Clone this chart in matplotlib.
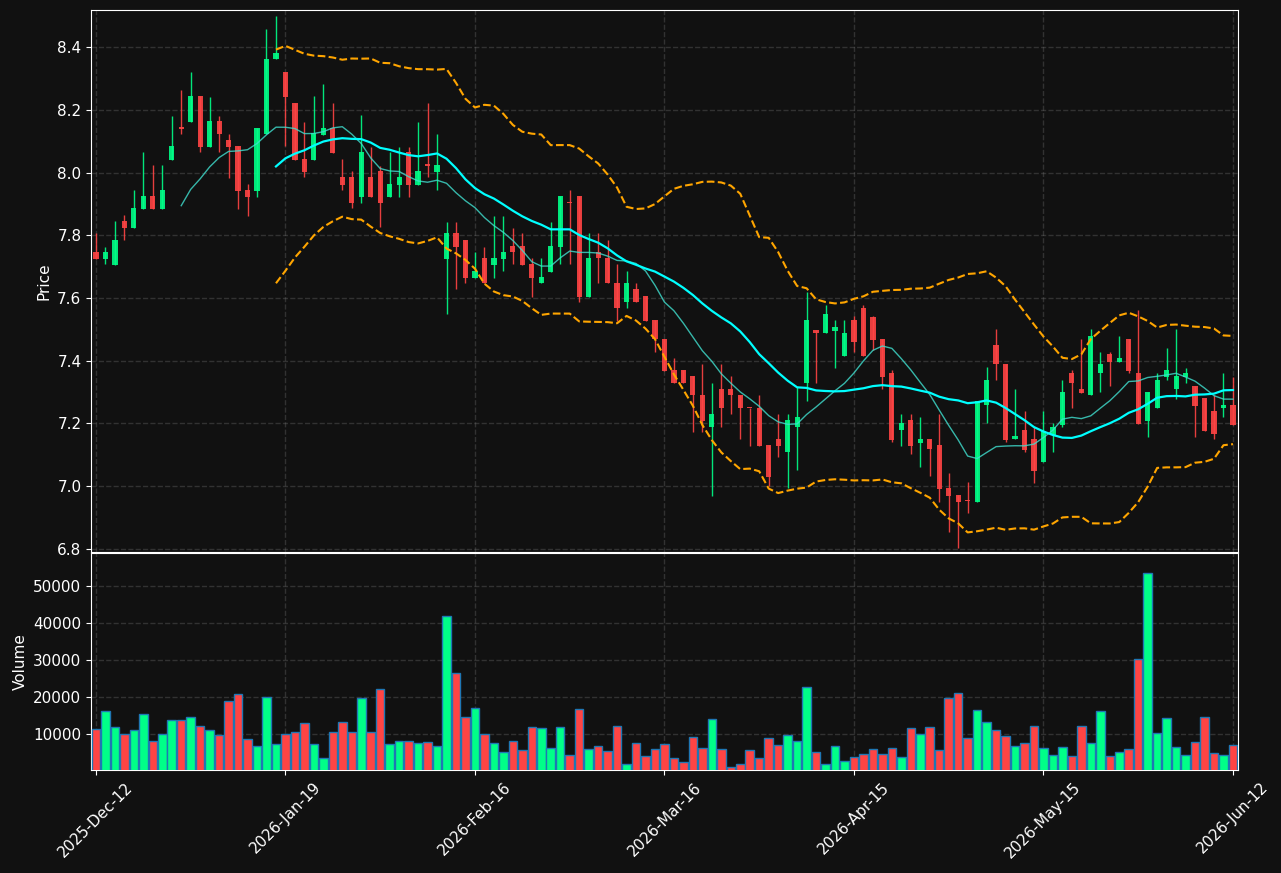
import numpy as np
import pandas as pd
import matplotlib
matplotlib.use("Agg")
import matplotlib.pyplot as plt

# OHLC, one entry per bar (121 bars)
opens = [7.745, 7.724, 7.705, 7.845, 7.824, 7.885, 7.925, 7.885, 8.041, 8.142,
         8.162, 8.244, 8.082, 8.164, 8.104, 8.084, 7.944, 7.942, 8.122, 8.361,
         8.321, 8.221, 8.042, 8.040, 8.120, 8.143, 7.985, 7.985, 7.923, 7.985,
         8.005, 7.923, 7.960, 8.064, 7.960, 8.024, 8.003, 7.724, 7.806, 7.785,
         7.665, 7.727, 7.705, 7.724, 7.766, 7.766, 7.707, 7.647, 7.684, 7.764,
         7.906, 7.925, 7.604, 7.745, 7.727, 7.647, 7.586, 7.629, 7.606, 7.530,
         7.468, 7.370, 7.370, 7.351, 7.291, 7.190, 7.310, 7.310, 7.291, 7.250,
         7.250, 7.131, 7.151, 7.110, 7.190, 7.328, 7.498, 7.487, 7.496, 7.416,
         7.530, 7.567, 7.538, 7.468, 7.360, 7.179, 7.211, 7.139, 7.150, 7.132,
         6.993, 6.972, 6.953, 6.951, 7.259, 7.450, 7.389, 7.150, 7.179, 7.150,
         7.078, 7.163, 7.195, 7.360, 7.310, 7.289, 7.360, 7.421, 7.397, 7.468,
         7.362, 7.209, 7.248, 7.349, 7.309, 7.349, 7.319, 7.280, 7.240, 7.248,
         7.259]
highs = [7.808, 7.764, 7.845, 7.864, 7.943, 8.064, 8.023, 8.023, 8.181, 8.262,
         8.319, 8.244, 8.242, 8.181, 8.122, 8.084, 7.962, 8.142, 8.459, 8.499,
         8.321, 8.222, 8.162, 8.244, 8.281, 8.221, 8.042, 8.005, 8.183, 8.082,
         8.022, 8.064, 8.082, 8.082, 8.162, 8.221, 8.122, 7.843, 7.843, 7.785,
         7.748, 7.764, 7.862, 7.862, 7.824, 7.806, 7.727, 7.727, 7.843, 7.925,
         7.944, 7.925, 7.806, 7.806, 7.785, 7.707, 7.686, 7.647, 7.606, 7.530,
         7.468, 7.408, 7.370, 7.351, 7.389, 7.328, 7.389, 7.351, 7.291, 7.250,
         7.291, 7.131, 7.230, 7.230, 7.317, 7.618, 7.498, 7.578, 7.530, 7.530,
         7.541, 7.578, 7.541, 7.468, 7.371, 7.229, 7.229, 7.220, 7.150, 7.229,
         7.041, 6.972, 7.013, 7.270, 7.379, 7.500, 7.389, 7.309, 7.240, 7.190,
         7.240, 7.200, 7.339, 7.371, 7.468, 7.500, 7.429, 7.429, 7.479, 7.468,
         7.562, 7.299, 7.360, 7.440, 7.500, 7.378, 7.319, 7.280, 7.291, 7.360,
         7.349]
lows = [7.724, 7.707, 7.705, 7.785, 7.824, 7.885, 7.885, 7.885, 8.041, 8.122,
        8.162, 8.064, 8.082, 8.064, 7.984, 7.885, 7.862, 7.923, 8.122, 8.361,
        8.084, 8.040, 7.987, 8.040, 8.120, 8.063, 7.944, 7.886, 7.904, 7.923,
        7.825, 7.923, 7.923, 7.923, 7.960, 7.985, 7.944, 7.548, 7.628, 7.647,
        7.665, 7.647, 7.665, 7.686, 7.707, 7.705, 7.604, 7.647, 7.684, 7.707,
        7.707, 7.586, 7.604, 7.647, 7.647, 7.525, 7.567, 7.586, 7.528, 7.427,
        7.367, 7.328, 7.328, 7.172, 7.172, 6.970, 7.190, 7.229, 7.150, 7.129,
        7.129, 6.999, 7.092, 6.993, 7.052, 7.272, 7.328, 7.487, 7.378, 7.416,
        7.427, 7.415, 7.434, 7.309, 7.140, 7.129, 7.102, 7.060, 7.031, 6.951,
        6.853, 6.802, 6.914, 6.951, 7.201, 7.339, 7.140, 7.150, 7.108, 7.009,
        7.078, 7.108, 7.190, 7.248, 7.298, 7.289, 7.299, 7.320, 7.397, 7.362,
        7.197, 7.158, 7.248, 7.339, 7.278, 7.328, 7.158, 7.177, 7.150, 7.220,
        7.195]
closes = [7.724, 7.745, 7.785, 7.824, 7.886, 7.925, 7.885, 7.944, 8.084, 8.140,
          8.244, 8.082, 8.164, 8.122, 8.082, 7.942, 7.923, 8.142, 8.362, 8.382,
          8.242, 8.040, 8.003, 8.125, 8.141, 8.063, 7.960, 7.904, 8.064, 7.923,
          7.904, 7.963, 7.985, 7.960, 8.005, 8.022, 8.024, 7.806, 7.764, 7.665,
          7.686, 7.647, 7.727, 7.746, 7.745, 7.705, 7.665, 7.666, 7.766, 7.925,
          7.903, 7.604, 7.727, 7.727, 7.647, 7.567, 7.647, 7.586, 7.528, 7.468,
          7.367, 7.328, 7.328, 7.289, 7.209, 7.230, 7.248, 7.289, 7.248, 7.248,
          7.129, 7.030, 7.129, 7.211, 7.222, 7.530, 7.487, 7.548, 7.506, 7.487,
          7.458, 7.415, 7.466, 7.349, 7.147, 7.201, 7.129, 7.150, 7.119, 6.991,
          6.970, 6.951, 6.952, 7.270, 7.339, 7.389, 7.147, 7.160, 7.116, 7.047,
          7.177, 7.190, 7.301, 7.328, 7.298, 7.479, 7.389, 7.397, 7.408, 7.368,
          7.197, 7.299, 7.339, 7.371, 7.351, 7.360, 7.256, 7.177, 7.166, 7.259,
          7.195]
volumes = [11430, 16210, 11880, 9990, 11070, 15400, 8100, 9990, 13780, 13780,
           14590, 12150, 11070, 9720, 18910, 20800, 8640, 6750, 19990, 7290,
           9990, 10530, 12960, 7290, 3500, 10530, 13230, 10530, 19720, 10530,
           22150, 7290, 8100, 8100, 7560, 7830, 6750, 41880, 26480, 14590,
           17020, 9990, 7560, 5130, 8100, 5670, 11880, 11610, 6210, 11880,
           4320, 16750, 5940, 6750, 5400, 12150, 1880, 7560, 4050, 5940,
           7290, 3500, 2420, 9180, 6210, 14050, 5940, 1070, 1880, 5670,
           3500, 8910, 7020, 9720, 8100, 22690, 5130, 1880, 6750, 2690,
           3780, 4590, 5940, 4590, 6210, 3780, 11610, 9990, 11880, 5670,
           19720, 21070, 8910, 16480, 13230, 11070, 9450, 6750, 7560, 12150,
           6210, 4320, 6480, 4050, 12150, 7560, 16210, 4050, 5130, 5940,
           30260, 53500, 10260, 14320, 6480, 4320, 7830, 14590, 4860, 4320,
           7020]

tick_labels = ["2025-Dec-12", "2026-Jan-19", "2026-Feb-16", "2026-Mar-16",
               "2026-Apr-15", "2026-May-15", "2026-Jun-12"]

bg = "#111111"
up_col = "#00ff88"
down_col = "#ff4444"

df = pd.DataFrame({"open": opens, "high": highs, "low": lows,
                   "close": closes, "volume": volumes})
df["ma10"] = df["close"].rolling(10).mean()
df["ma20"] = df["close"].rolling(20).mean()
std20 = df["close"].rolling(20).std(ddof=0)
df["upper"] = df["ma20"] + 2 * std20
df["lower"] = df["ma20"] - 2 * std20

x = np.arange(len(df))
up = df["close"] >= df["open"]
colors = np.where(up, up_col, down_col)

fig = plt.figure(figsize=(12.81, 8.73), dpi=100, facecolor=bg)
ax1 = fig.add_axes([0.0712, 0.3677, 0.895, 0.6208])
ax2 = fig.add_axes([0.0712, 0.1180, 0.895, 0.2486], sharex=ax1)

#candles: wick + body
body_lo = np.minimum(df["open"], df["close"])
body_h = np.maximum((df["close"] - df["open"]).abs(), 0.004)
ax1.vlines(x, df["low"], df["high"], colors=colors, lw=1, alpha=0.9, zorder=3)
ax1.bar(x, body_h, bottom=body_lo, width=0.55, color=colors, alpha=0.9, zorder=4)

ax1.plot(x, df["ma10"], color="#40e0d0", lw=1, alpha=0.8, zorder=5)
ax1.plot(x, df["ma20"], color="#00ffff", lw=1.6, zorder=5)
ax1.plot(x, df["upper"], color="#ffa500", lw=1.5, ls="--", zorder=5)
ax1.plot(x, df["lower"], color="#ffa500", lw=1.5, ls="--", zorder=5)
ax1.set_ylabel("Price", color="white", fontsize=11)
ax1.set_ylim(6.79, 8.518)

ax2.bar(x, df["volume"], width=0.9, color=colors, edgecolor="#1f77b4", lw=1, zorder=3)
ax2.set_ylabel("Volume", color="white", fontsize=11)
ax2.set_ylim(350, 58900)

ax2.set_xlim(-0.5, len(df) - 0.5)
ax2.set_xticks(x[::20])
ax2.set_xticklabels(tick_labels, rotation=45, fontsize=11)
ax1.tick_params(labelbottom=False)

for ax in (ax1, ax2):
    ax.set_facecolor(bg)
    ax.grid(True, color="gray", alpha=0.3, ls="--", lw=1)
    ax.tick_params(colors="white", labelsize=11)
    for s in ax.spines.values():
        s.set_color("white")

fig.savefig("out.png", dpi=100, facecolor=bg)
